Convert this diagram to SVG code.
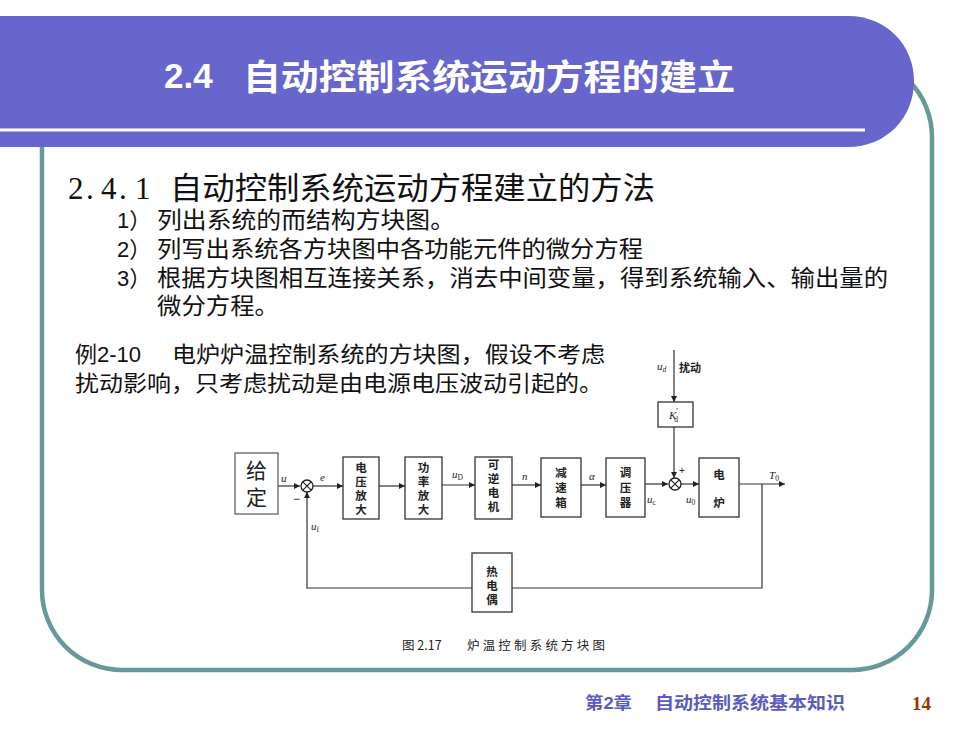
<svg xmlns="http://www.w3.org/2000/svg" width="980" height="735" viewBox="0 0 980 735">
<defs>
<style>
.cjk{font-family:"Noto Sans CJK SC","Noto Sans",sans-serif;}
.title{font-family:"Liberation Sans","Noto Sans CJK SC",sans-serif;font-weight:bold;fill:#fff;}
.body{font-family:"Liberation Sans","Noto Sans CJK SC",sans-serif;fill:#111;}
.blk{fill:#fff;stroke:#333;stroke-width:1.3;}
.bt{font-family:"Noto Sans CJK SC",sans-serif;font-size:11.5px;font-weight:bold;fill:#222;text-anchor:middle;}
.lab{font-family:"Liberation Serif",serif;font-style:italic;font-size:11px;fill:#222;}
.sub{font-size:7.5px;}
.wire{fill:none;stroke:#333;stroke-width:1.2;}
.arr{marker-end:url(#ah);}
.foot{font-family:"Liberation Sans","Noto Sans CJK SC",sans-serif;font-weight:bold;fill:#5a5ac0;font-size:17px;}
</style>
<marker id="ah" viewBox="0 0 10 10" refX="10" refY="5" markerWidth="7" markerHeight="6" markerUnits="userSpaceOnUse" orient="auto">
<path d="M0,0 L10,5 L0,10 z" fill="#222"/>
</marker>
</defs>
<rect width="980" height="735" fill="#fff"/>
<!-- frame -->
<path d="M42,100 V590 A80,80 0 0 0 122,670 H852 A80,80 0 0 0 932,590 V137 A80,80 0 0 0 852,57 H100" fill="none" stroke="#669999" stroke-width="4.5"/>
<!-- banner -->
<path d="M0,16 H848 C886,16 914,45 914,81 C914,118 886,147 848,147 H0 Z" fill="#6666cc"/>
<line x1="0" y1="130" x2="865" y2="130" stroke="#fff" stroke-width="3"/>
<text class="title" x="164" y="88" font-size="35">2.4</text>
<text class="title" x="243" y="90" font-size="35" textLength="492" lengthAdjust="spacingAndGlyphs">自动控制系统运动方程的建立</text>
<!-- heading and items -->
<text x="68 86 101 119 135" y="199" font-family="Liberation Serif, serif" font-size="31" fill="#111">2.4.1</text>
<text class="cjk" x="170" y="199" font-size="31" fill="#111" textLength="485" lengthAdjust="spacingAndGlyphs">自动控制系统运动方程建立的方法</text>
<text class="body" x="117" y="228" font-size="22">1）</text>
<text class="body" x="157" y="228" font-size="23" textLength="298" lengthAdjust="spacingAndGlyphs">列出系统的而结构方块图。</text>
<text class="body" x="117" y="257" font-size="22">2）</text>
<text class="body" x="157" y="257" font-size="23" textLength="486" lengthAdjust="spacingAndGlyphs">列写出系统各方块图中各功能元件的微分方程</text>
<text class="body" x="117" y="286" font-size="22">3）</text>
<text class="body" x="157" y="286" font-size="23" textLength="731" lengthAdjust="spacingAndGlyphs">根据方块图相互连接关系，消去中间变量，得到系统输入、输出量的</text>
<text class="body" x="157" y="314" font-size="23" textLength="122" lengthAdjust="spacingAndGlyphs">微分方程。</text>
<!-- example -->
<text class="body" x="75" y="362" font-size="22">例2-10</text>
<text class="body" x="172" y="362" font-size="22" textLength="433" lengthAdjust="spacingAndGlyphs">电炉炉温控制系统的方块图，假设不考虑</text>
<text class="body" x="75" y="391" font-size="22" textLength="528" lengthAdjust="spacingAndGlyphs">扰动影响，只考虑扰动是由电源电压波动引起的。</text>
<!-- connectors -->
<g id="connectors">
<line class="wire arr" x1="278" y1="486" x2="300" y2="486"/>
<line class="wire arr" x1="313" y1="486" x2="343" y2="486"/>
<line class="wire arr" x1="379" y1="486" x2="405" y2="486"/>
<line class="wire arr" x1="442" y1="485" x2="475" y2="485"/>
<line class="wire arr" x1="512" y1="485" x2="541" y2="485"/>
<line class="wire arr" x1="581" y1="485" x2="606" y2="485"/>
<line class="wire arr" x1="645" y1="484" x2="668" y2="484"/>
<line class="wire arr" x1="681" y1="484" x2="699" y2="484"/>
<line class="wire arr" x1="739" y1="484" x2="785" y2="484"/>
<line class="wire arr" x1="674" y1="350" x2="674" y2="402"/>
<line class="wire arr" x1="674" y1="427" x2="674" y2="478"/>
<polyline class="wire" points="762,484 762,588 512,588"/>
<polyline class="wire arr" points="472,588 307,588 307,492"/>
</g>
<!-- sum junctions -->
<g id="sum1"><circle cx="307" cy="486" r="6" fill="#fff" stroke="#222" stroke-width="1.3"/><path d="M302.8,481.8 L311.2,490.2 M311.2,481.8 L302.8,490.2" stroke="#222" stroke-width="1.2"/></g>
<g id="sum2"><circle cx="675" cy="484" r="6" fill="#fff" stroke="#222" stroke-width="1.3"/><path d="M670.8,479.8 L679.2,488.2 M679.2,479.8 L670.8,488.2" stroke="#222" stroke-width="1.2"/></g>
<!-- blocks -->
<g id="given"><rect x="235" y="453" width="43" height="61" fill="#fff" stroke="#555" stroke-width="1.2"/>
<text x="256.5" y="478" font-family="Noto Sans CJK SC,sans-serif" font-size="21" fill="#222" text-anchor="middle">给</text>
<text x="256.5" y="505" font-family="Noto Sans CJK SC,sans-serif" font-size="21" fill="#222" text-anchor="middle">定</text></g>
<g id="volt-amp"><rect class="blk" x="343" y="457" width="36" height="62"/>
<text class="bt" x="361" y="472">电</text><text class="bt" x="361" y="486">压</text><text class="bt" x="361" y="500">放</text><text class="bt" x="361" y="514">大</text></g>
<g id="power-amp"><rect class="blk" x="405" y="457" width="37" height="62"/>
<text class="bt" x="423.5" y="472">功</text><text class="bt" x="423.5" y="486">率</text><text class="bt" x="423.5" y="500">放</text><text class="bt" x="423.5" y="514">大</text></g>
<g id="motor"><rect class="blk" x="475" y="457" width="37" height="62"/>
<text class="bt" x="493.5" y="469">可</text><text class="bt" x="493.5" y="483">逆</text><text class="bt" x="493.5" y="497">电</text><text class="bt" x="493.5" y="511">机</text></g>
<g id="gearbox"><rect class="blk" x="541" y="458" width="40" height="59"/>
<text class="bt" x="561" y="477">减</text><text class="bt" x="561" y="492">速</text><text class="bt" x="561" y="507">箱</text></g>
<g id="regulator"><rect class="blk" x="606" y="458" width="39" height="59"/>
<text class="bt" x="625.5" y="477">调</text><text class="bt" x="625.5" y="492">压</text><text class="bt" x="625.5" y="507">器</text></g>
<g id="furnace"><rect class="blk" x="699" y="458" width="40" height="59"/>
<text class="bt" x="719" y="479">电</text><text class="bt" x="719" y="507">炉</text></g>
<g id="kd"><rect class="blk" x="658" y="402" width="35" height="25"/>
<text class="lab" x="669" y="419" font-size="12">K<tspan font-style="normal" font-size="9" dy="-5">′</tspan><tspan class="sub" font-style="normal" dx="-4" dy="8">d</tspan></text></g>
<g id="thermocouple"><rect class="blk" x="472" y="553" width="40" height="59"/>
<text class="bt" x="492" y="576">热</text><text class="bt" x="492" y="590">电</text><text class="bt" x="492" y="604">偶</text></g>
<!-- labels -->
<text class="lab" x="281" y="482">u</text>
<text class="lab" x="320" y="481">e</text>
<text x="293" y="503" font-family="Liberation Sans,sans-serif" font-size="12" fill="#222">−</text>
<text class="lab" x="452" y="478">u<tspan class="sub" font-style="normal" dy="2">D</tspan></text>
<text class="lab" x="522" y="480">n</text>
<text class="lab" x="589" y="480">α</text>
<text class="lab" x="647" y="503">u<tspan class="sub" font-style="normal" dy="2">c</tspan></text>
<text x="679" y="474" font-family="Liberation Sans,sans-serif" font-size="10" fill="#222">+</text>
<text class="lab" x="686" y="503">u<tspan class="sub" font-style="normal" dy="2">0</tspan></text>
<text class="lab" x="769" y="479">T<tspan class="sub" font-style="normal" dy="2">0</tspan></text>
<text class="lab" x="311" y="530">u<tspan class="sub" font-style="normal" dy="2">f</tspan></text>
<text class="lab" x="657" y="370">u<tspan class="sub" font-style="italic" dy="2">d</tspan></text>
<text x="679" y="372" font-family="Noto Sans CJK SC,sans-serif" font-size="11" font-weight="bold" fill="#222">扰动</text>
<!-- caption -->
<text x="402" y="650" font-family="Noto Sans CJK SC,sans-serif" font-size="12.5" fill="#222">图 2.17</text>
<text x="467" y="650" font-family="Noto Sans CJK SC,sans-serif" font-size="12.5" fill="#222" textLength="138" lengthAdjust="spacing">炉温控制系统方块图</text>
<!-- footer -->
<text class="foot" x="585" y="709" textLength="47" lengthAdjust="spacingAndGlyphs">第2章</text>
<text class="foot" x="655" y="709" textLength="190" lengthAdjust="spacingAndGlyphs">自动控制系统基本知识</text>
<text x="912" y="710" font-family="Liberation Serif,serif" font-weight="bold" font-size="19" fill="#993300">14</text>
</svg>
